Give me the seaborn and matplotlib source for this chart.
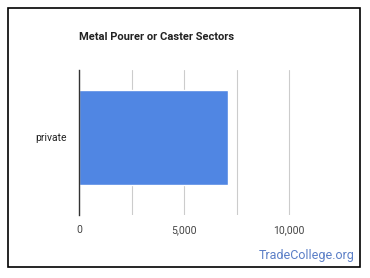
import matplotlib
matplotlib.use("Agg")
import matplotlib.pyplot as plt
import seaborn as sns
import pandas as pd
from matplotlib.patches import Rectangle
from matplotlib.ticker import FixedLocator, FuncFormatter

categories = ["private"]
values = [7100]
title = "Metal Pourer or Caster Sectors"
major_ticks = [0, 5000, 10000]
minor_ticks = [2500, 7500]

sns.set_theme(style="white")
plt.rcParams["font.family"] = ["Roboto", "DejaVu Sans"]

df = pd.DataFrame({"sector": categories, "count": values})

fig = plt.figure(figsize=(3.7, 2.78), dpi=100)
ax = fig.add_axes([79/370, 63/278, (341.5-79)/370, 145/278])

sns.barplot(data=df, x="count", y="sector", orient="h", color="#5086E3",
            width=0.655, saturation=1, ax=ax, zorder=3)

ax.set_xlim(0, 12500)
ax.set_ylim(0.5345, -0.4655)
ax.xaxis.set_major_locator(FixedLocator(major_ticks))
ax.xaxis.set_minor_locator(FixedLocator(minor_ticks))
ax.xaxis.set_major_formatter(FuncFormatter(lambda v, p: f"{int(v):,}"))
ax.grid(True, axis="x", which="both", color="#cccccc", linewidth=0.8, zorder=0)
ax.set_axisbelow(True)
ax.set_xlabel("")
ax.set_ylabel("")
for s in ["top", "right", "bottom"]:
    ax.spines[s].set_visible(False)
ax.spines["left"].set_color("#333333")
ax.spines["left"].set_linewidth(1.0)
ax.spines["left"].set_zorder(4)
ax.tick_params(axis="both", which="both", length=0)
ax.tick_params(axis="x", pad=7, labelsize=7.5, labelcolor="#444444")
ax.tick_params(axis="y", pad=9, labelsize=7.5, labelcolor="#222222")

fig.text(79/370, 1-37/278, title, fontsize=8.0, fontweight="bold",
         color="#222222", va="center", ha="left")
fig.text(355/370, 1-255/278, "TradeCollege.org", fontsize=9, color="#5b7fc7",
         va="center", ha="right")

fig.patches.append(Rectangle((8/370, 11/278), 352/370, 259/278, transform=fig.transFigure,
                             fill=False, edgecolor="black", linewidth=1.2))

fig.savefig("out.png", dpi=100)
